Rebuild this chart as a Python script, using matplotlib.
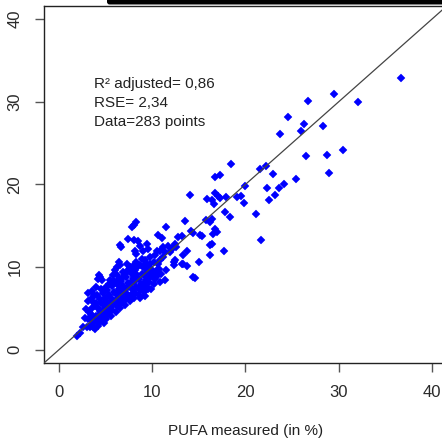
import matplotlib
matplotlib.use("Agg")
import matplotlib.pyplot as plt
from matplotlib.patches import FancyBboxPatch

plt.rcParams['font.family'] = ['Liberation Sans', 'DejaVu Sans']

# Measured vs. predicted PUFA content (in %)
pufa_measured = [
    36.7, 26.7, 29.5, 32.1, 24.6, 26.3, 26.0, 28.3, 23.7, 26.5, 28.7, 30.5, 28.9,
    18.4, 21.6, 22.2, 17.3, 16.7, 22.9, 19.9, 22.3, 23.6, 24.1, 25.4, 23.2, 22.5,
    17.3, 17.9, 19.1, 19.5, 19.8, 17.8, 18.3, 21.1, 17.7, 21.7, 16.7, 17.1, 16.4,
    16.6, 16.4, 16.2, 16.7, 16.9, 16.5, 16.4, 14.1, 15.9, 13.5, 15.8, 11.5, 10.6,
    11.0, 7.8, 8.3, 8.0, 7.4, 8.1, 13.2, 14.4, 15.1, 8.5, 8.7, 12.8, 13.7, 11.2,
    11.4, 10.5, 10.3, 9.4, 9.6, 11.7, 12.1, 12.4, 13.3, 13.7, 11.5, 14.4, 11.4,
    10.6, 10.5, 10.1, 8.0, 8.3, 8.9, 9.2, 9.8, 8.7, 9.2, 9.9, 8.9, 6.6, 8.15, 8.3,
    6.4, 6.5, 6.0, 5.8, 10.8, 12.6, 12.4, 12.3, 9.0, 9.8, 8.0, 8.3, 6.9, 6.5, 4.4,
    14.6, 15.0, 16.2, 16.2, 15.3, 14.2, 13.3, 12.3, 11.9, 6.7, 9.0, 6.2, 6.2, 4.3,
    4.2, 4.6, 3.1, 3.6, 3.1, 5.5, 2.6, 1.9, 2.3, 2.8, 3.1, 2.9, 3.25, 3.9, 4.0,
    13.2, 12.3, 10.8, 11.2, 9.9, 9.6, 10.1, 10.6, 10.8, 9.0, 8.7, 9.4, 8.3, 8.0,
    7.3, 7.1, 7.8, 7.4, 6.9, 6.5, 6.0, 5.5, 4.9, 4.4, 4.0, 3.7, 3.5, 3.3, 3.9,
    4.2, 3.7, 4.0, 3.3, 3.0, 4.4,
    3.4, 3.6, 3.8, 3.5, 3.8, 3.7,
    4.1, 4.3, 4.2, 4.4, 4.1, 4.5, 4.3, 4.5,
    4.6, 4.7, 4.8, 4.9, 4.7, 5.0, 4.8, 4.9,
    5.1, 5.2, 5.3, 5.1, 5.4, 5.2, 5.4, 5.3,
    5.6, 5.7, 5.8, 5.6, 5.9, 5.7, 5.9, 5.6,
    6.1, 6.2, 6.3, 6.1, 6.4, 6.2, 6.4, 6.3,
    6.6, 6.7, 6.8, 6.6, 6.9, 6.7, 6.9, 6.8,
    7.1, 7.2, 7.3, 7.1, 7.4, 7.2, 7.4, 7.3,
    7.6, 7.7, 7.8, 7.6, 7.9, 7.7, 7.6,
    8.1, 8.2, 8.3, 8.1, 8.4, 8.2, 8.4,
    8.6, 8.7, 8.8, 8.6, 8.9, 8.7,
    9.1, 9.2, 9.3, 9.1, 9.4, 9.3,
    9.6, 9.7, 9.8, 9.6,
    10.2, 10.3, 10.4, 10.7, 10.9, 10.2,
]
pufa_predicted = [
    32.9, 30.1, 30.9, 30.0, 28.2, 27.3, 26.4, 27.1, 26.1, 23.4, 23.6, 24.2, 21.4,
    22.5, 21.9, 22.2, 21.1, 20.9, 21.3, 19.8, 19.6, 19.6, 20.1, 20.6, 18.7, 18.1,
    18.4, 18.5, 18.5, 18.6, 17.7, 16.6, 16.1, 16.4, 12.0, 13.3, 19.0, 18.6, 18.1,
    17.6, 15.8, 15.4, 14.6, 14.2, 14.0, 12.8, 18.7, 18.2, 15.6, 15.7, 14.8, 13.9,
    13.5, 14.8, 15.4, 15.1, 13.4, 13.3, 13.7, 14.1, 13.9, 13.2, 12.6, 13.6, 12.0,
    12.4, 11.8, 12.0, 11.4, 12.8, 12.2, 12.6, 12.2, 12.8, 10.4, 10.1, 9.6, 8.8,
    8.4, 10.4, 9.6, 8.8, 10.2, 10.6, 11.0, 10.8, 11.2, 6.3, 6.5, 7.4, 7.4, 12.7,
    12.0, 11.6, 10.6, 10.2, 9.6, 9.1, 12.0, 12.4, 10.8, 10.2, 10.0, 10.4, 8.8,
    9.2, 8.8, 8.4, 8.8, 8.7, 10.6, 11.4, 12.7, 13.8, 14.4, 11.4, 12.6, 11.8, 12.4,
    12.0, 10.0, 9.0, 9.0, 8.6, 8.4, 6.9, 7.1, 5.9, 8.4, 2.8, 1.7, 2.0, 3.9, 3.7,
    4.9, 4.6, 5.3, 5.7, 10.4, 10.6, 10.8, 11.2, 9.8, 9.4, 9.2, 9.0, 8.2, 8.0, 7.6,
    7.6, 10.2, 9.6, 10.4, 9.2, 8.2, 7.6, 6.9, 6.3, 5.9, 5.5, 5.1, 4.7, 4.1, 3.5,
    3.1, 2.7, 2.5, 2.9, 2.7, 7.6, 3.9, 2.7, 3.3,
    4.3, 5.0, 3.9, 6.2, 6.6, 5.8,
    3.4, 4.2, 5.1, 6.1, 6.6, 7.3, 3.8, 5.6,
    3.6, 4.5, 5.4, 6.3, 6.9, 7.6, 3.2, 4.0,
    3.7, 4.4, 5.0, 5.9, 6.6, 7.2, 8.0, 4.7,
    4.1, 4.8, 5.4, 6.3, 7.0, 7.7, 8.3, 5.9,
    4.6, 5.3, 6.1, 6.7, 7.3, 7.9, 8.6, 5.7,
    5.0, 5.7, 6.4, 7.1, 7.7, 8.3, 9.4, 6.0,
    5.4, 6.1, 6.8, 7.4, 8.1, 8.8, 9.7, 6.3,
    5.9, 6.6, 7.3, 7.9, 8.5, 9.3, 10.0,
    6.2, 6.9, 7.6, 8.2, 8.7, 9.6, 10.0,
    6.6, 7.2, 8.0, 8.6, 9.2, 10.2,
    7.0, 7.8, 8.4, 9.0, 9.6, 10.5,
    7.4, 8.2, 8.8, 9.9,
    8.0, 8.6, 9.4, 9.8, 9.2, 10.6,
]

axis_ticks = [0, 10, 20, 30, 40]
fit_lines = ["R\u00b2 adjusted= 0,86", "RSE= 2,34", "Data=283 points"]
fit_label_y = [31.6, 29.4, 27.1]

fig = plt.figure(figsize=(4.42, 4.41), dpi=100)
ax = fig.add_axes([0.0995, 0.1769, 0.9118, 0.8100])

ax.set_xlim(-1.6, 41.6)
ax.set_ylim(-1.6, 41.6)

ax.plot(pufa_measured, pufa_predicted, ls='none', marker='D', ms=3.9,
        mew=0.3, mfc='#0000ff', mec='#0000ff', zorder=2)
ax.axline((0, 0), slope=1, color='#444444', lw=0.9, zorder=3)

for txt, yy in zip(fit_lines, fit_label_y):
    ax.text(3.8, yy, txt, fontsize=11, color='#222222', ha='left', va='baseline')

ax.set_xticks(axis_ticks)
ax.set_yticks(axis_ticks)
ax.tick_params(axis='both', direction='out', length=6.5, width=1.0,
               color='#555555', labelcolor='#2a2a2a', labelsize=12, pad=9)
ax.tick_params(axis='y', labelrotation=90)
for lab in ax.get_yticklabels():
    lab.set_va('center')

for sp in ax.spines.values():
    sp.set_color('#222222')
    sp.set_linewidth(1.0)

ax.set_xlabel("PUFA measured (in %)", fontsize=11, color='#222222')
ax.xaxis.set_label_coords(0.5, -0.17)

# dark bar running along the top edge
bar = FancyBboxPatch((107 / 442, 436.5 / 441), 340 / 442, 8 / 441,
                     boxstyle="round,pad=0,rounding_size=0.006",
                     transform=fig.transFigure, facecolor='black',
                     edgecolor='none', clip_on=False)
fig.patches.append(bar)

fig.savefig("out.png", dpi=100)
